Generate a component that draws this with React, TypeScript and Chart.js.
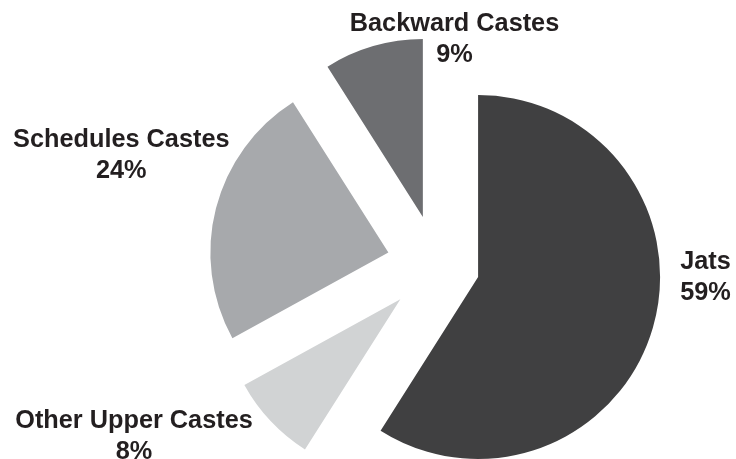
import React, { useEffect, useRef } from "react";
import { Chart, registerables } from "chart.js";

Chart.register(...registerables);

// ---- data ----
const categories = ["Jats", "Other Upper Castes", "Schedules Castes", "Backward Castes"];
const shares = [59, 8, 24, 9];

// ---- styles / layout ----
const sliceColors = ["#404041", "#d1d3d4", "#a7a9ac", "#6d6e71"];
const explodeDistance = [43, 50, 50, 50]; // px each slice is pulled out along its mid angle
const sliceRadius = [182, 178, 178, 178];
const PIE_RADIUS = 180;
const labelPlacement = [
  [268.7, 12.5],
  [-302.8, 171.5],
  [-315.5, -109.2],
  [17.7, -225.8],
];
const LABEL_FONT = "bold 25.3px 'Liberation Sans', Arial, sans-serif";
const LINE_GAP = 31;

// Explode slices: shift each arc element produced by the pie controller
const explodeSlices = {
  id: "explodeSlices",
  afterDatasetUpdate(chart: any, args: any) {
    const meta = args.meta;
    meta.data.forEach((el: any, i: number) => {
      const mid = (el.startAngle + el.endAngle) / 2;
      const d = explodeDistance[i] || 0;
      el.x = el.x + Math.cos(mid) * d;
      el.y = el.y + Math.sin(mid) * d;
      el.outerRadius = sliceRadius[i] ?? el.outerRadius;
    });
  },
};

const sliceLabels = {
  id: "sliceLabels",
  afterDatasetsDraw(chart: any) {
    const meta = chart.getDatasetMeta(0);
    const ctx = chart.ctx;
    const area = chart.chartArea;
    const cx0 = (area.left + area.right) / 2;
    const cy0 = (area.top + area.bottom) / 2;
    ctx.save();
    ctx.font = LABEL_FONT;
    ctx.fillStyle = "#231f20";
    ctx.textAlign = "center";
    ctx.textBaseline = "middle";
    meta.data.forEach((_el: any, i: number) => {
      const [dx, dy] = labelPlacement[i];
      const cx = cx0 + dx;
      const cy = cy0 + dy;
      ctx.fillText(categories[i], cx, cy - LINE_GAP / 2);
      ctx.fillText(`${shares[i]}%`, cx, cy + LINE_GAP / 2);
    });
    ctx.restore();
  },
};

export default function App() {
  const canvasRef = useRef<HTMLCanvasElement | null>(null);

  useEffect(() => {
    document.body.style.margin = "0";
    const canvas = canvasRef.current;
    if (!canvas) return;
    const chart = new Chart(canvas, {
      type: "pie",
      data: {
        labels: categories,
        datasets: [
          {
            data: shares,
            backgroundColor: sliceColors,
            borderWidth: 0,
            radius: PIE_RADIUS,
          } as any,
        ],
      },
      options: {
        animation: false,
        responsive: true,
        maintainAspectRatio: false,
        layout: { padding: { left: 137.6, right: 0, top: 71, bottom: 0 } },
        plugins: {
          legend: { display: false },
          tooltip: { enabled: false },
        },
        events: [],
      },
      plugins: [explodeSlices, sliceLabels],
    });
    return () => chart.destroy();
  }, []);

  return (
    <div style={{ position: "absolute", left: 0, top: 0, width: 736, height: 459, background: "#fff" }}>
      <canvas ref={canvasRef} />
    </div>
  );
}
